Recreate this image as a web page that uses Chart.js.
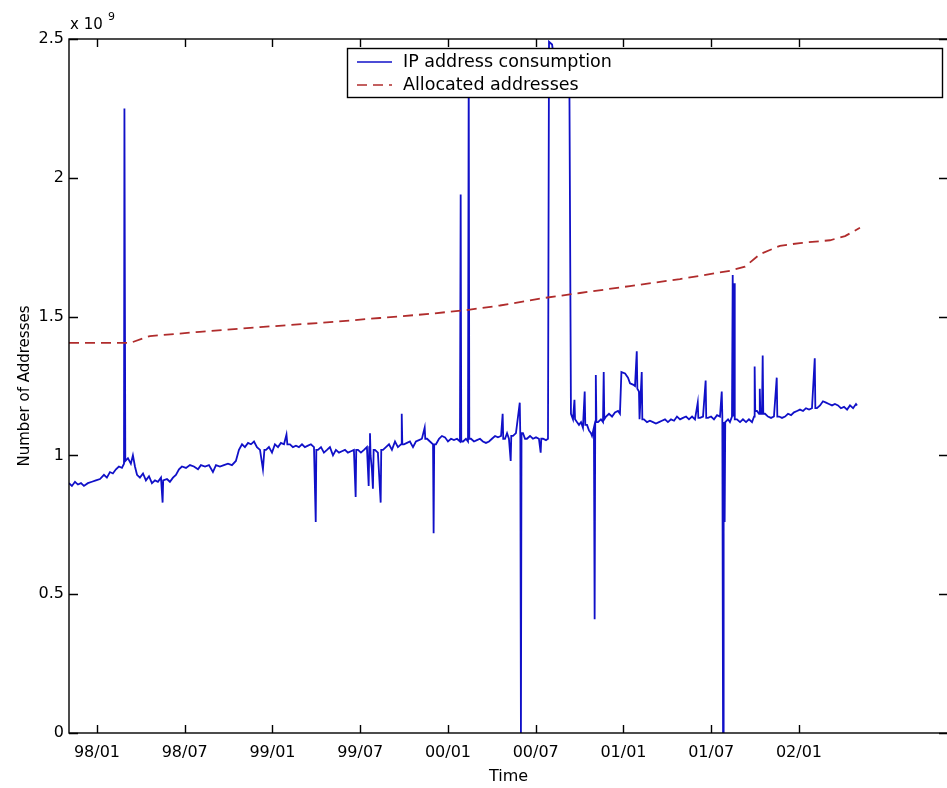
<!DOCTYPE html>
<html>
<head>
<meta charset="utf-8">
<style>
  html, body { margin: 0; padding: 0; background: #fff; overflow: hidden; }
  #wrap { width: 950px; height: 788px; }
</style>
<script src="https://cdn.jsdelivr.net/npm/chart.js@4.4.1/dist/chart.umd.min.js"></script>
</head>
<body>
<div id="wrap"><canvas id="addr" width="950" height="788"></canvas></div>
<script>
const FONT = "'DejaVu Sans', sans-serif";

// x is months since 1998/01
const tickMonths = [0, 6, 12, 18, 24, 30, 36, 42, 48];
const tickLabels = ['98/01', '98/07', '99/01', '99/07', '00/01', '00/07', '01/01', '01/07', '02/01'];
const yTicks = [0, 0.5, 1, 1.5, 2, 2.5];

// daily consumption, in units of 10^9 addresses
const consumption = [
  [-1.91,0.90],[-1.71,0.89],[-1.50,0.905],[-1.30,0.895],[-1.09,0.90],[-0.89,0.89],[-0.62,0.90],[-0.34,0.905],
  [-0.07,0.91],[0.21,0.915],[0.48,0.93],[0.68,0.92],[0.89,0.94],[1.09,0.935],[1.30,0.95],[1.50,0.96],[1.71,0.955],
  [1.85,0.97],[1.88,2.25],[1.91,2.25],[1.94,0.98],[2.12,0.99],[2.32,0.97],[2.46,1.00],[2.60,0.96],[2.74,0.93],
  [2.94,0.92],[3.15,0.935],[3.35,0.91],[3.56,0.925],[3.76,0.90],[3.97,0.91],[4.17,0.905],[4.38,0.92],[4.49,0.83],
  [4.53,0.91],[4.79,0.915],[4.99,0.905],[5.20,0.92],[5.40,0.93],[5.61,0.95],[5.81,0.96],[6.09,0.955],[6.36,0.965],
  [6.63,0.96],[6.91,0.95],[7.11,0.965],[7.39,0.96],[7.66,0.965],[7.93,0.94],[8.14,0.965],[8.41,0.96],[8.68,0.965],
  [8.96,0.97],[9.23,0.965],[9.50,0.98],[9.71,1.02],[9.92,1.04],[10.12,1.03],[10.33,1.045],[10.53,1.04],[10.74,1.05],
  [10.94,1.03],[11.15,1.02],[11.35,0.95],[11.45,1.02],[11.56,1.02],[11.76,1.03],[11.97,1.01],[12.17,1.04],[12.38,1.03],
  [12.58,1.045],[12.79,1.04],[12.96,1.075],[13.02,1.04],[13.20,1.04],[13.40,1.03],[13.61,1.035],[13.81,1.03],
  [14.02,1.04],[14.22,1.03],[14.43,1.035],[14.63,1.04],[14.84,1.03],[14.96,0.76],[15.00,1.02],[15.11,1.02],
  [15.32,1.03],[15.52,1.01],[15.73,1.02],[15.93,1.03],[16.14,1.00],[16.34,1.02],[16.55,1.01],[16.75,1.015],
  [16.96,1.02],[17.16,1.01],[17.37,1.015],[17.57,1.02],[17.69,0.85],[17.73,1.02],[17.85,1.02],[18.05,1.01],
  [18.26,1.02],[18.46,1.03],[18.58,0.89],[18.62,1.03],[18.67,1.08],[18.71,1.00],[18.80,0.95],[18.87,0.88],
  [18.92,1.02],[19.01,1.02],[19.21,1.01],[19.40,0.83],[19.44,1.02],[19.56,1.02],[19.76,1.03],[19.97,1.04],
  [20.17,1.02],[20.38,1.05],[20.58,1.03],[20.79,1.04],[20.84,1.15],[20.88,1.04],[20.99,1.04],[21.20,1.045],
  [21.40,1.05],[21.61,1.03],[21.81,1.05],[22.02,1.055],[22.22,1.06],[22.41,1.10],[22.45,1.06],[22.57,1.06],
  [22.77,1.05],[22.98,1.04],[23.02,0.72],[23.06,1.04],[23.18,1.04],[23.39,1.06],[23.59,1.07],[23.80,1.065],
  [24.00,1.05],[24.21,1.06],[24.41,1.055],[24.62,1.06],[24.82,1.05],[24.87,1.94],[24.91,1.05],[25.03,1.05],
  [25.23,1.06],[25.37,1.05],[25.42,2.40],[25.46,1.06],[25.57,1.06],[25.78,1.05],[25.98,1.055],[26.19,1.06],
  [26.39,1.05],[26.60,1.045],[26.81,1.05],[27.01,1.06],[27.22,1.07],[27.42,1.065],[27.63,1.07],[27.74,1.15],
  [27.78,1.06],[27.90,1.06],[28.04,1.08],[28.17,1.06],[28.29,0.98],[28.33,1.07],[28.45,1.07],[28.65,1.08],
  [28.91,1.19],[28.95,1.06],[28.99,0.0],[29.03,1.08],[29.13,1.08],[29.27,1.06],[29.40,1.06],[29.61,1.07],
  [29.81,1.06],[30.02,1.065],[30.22,1.06],[30.34,1.01],[30.38,1.06],[30.50,1.06],[30.70,1.055],[30.84,1.06],
  [30.91,2.49],[31.12,2.48],[31.33,2.40],[32.30,2.38],[32.41,1.15],[32.55,1.13],[32.65,1.20],[32.69,1.13],
  [32.82,1.12],[32.96,1.11],[33.10,1.12],[33.23,1.10],[33.35,1.23],[33.39,1.11],[33.51,1.11],[33.64,1.09],
  [33.78,1.08],[33.85,1.07],[33.98,1.10],[34.03,0.41],[34.07,1.12],[34.11,1.29],[34.15,1.12],[34.26,1.12],
  [34.46,1.13],[34.60,1.12],[34.65,1.30],[34.69,1.13],[34.81,1.14],[35.01,1.15],[35.22,1.14],[35.42,1.155],
  [35.63,1.16],[35.76,1.15],[35.86,1.30],[36.11,1.295],[36.31,1.28],[36.45,1.26],[36.65,1.255],[36.79,1.25],
  [36.91,1.375],[36.95,1.24],[37.06,1.23],[37.10,1.13],[37.25,1.30],[37.29,1.13],[37.40,1.13],[37.61,1.12],
  [37.81,1.125],[38.02,1.12],[38.22,1.115],[38.43,1.12],[38.63,1.125],[38.84,1.13],[39.04,1.12],[39.25,1.13],
  [39.46,1.125],[39.66,1.14],[39.87,1.13],[40.07,1.135],[40.28,1.14],[40.48,1.13],[40.69,1.14],[40.89,1.13],
  [41.08,1.19],[41.12,1.135],[41.23,1.135],[41.44,1.14],[41.62,1.27],[41.66,1.135],[41.78,1.135],[41.99,1.14],
  [42.19,1.13],[42.40,1.145],[42.60,1.14],[42.72,1.23],[42.76,1.14],[42.81,0.0],[42.85,1.12],[42.92,0.76],
  [42.96,1.12],[43.01,1.12],[43.15,1.13],[43.28,1.12],[43.42,1.14],[43.47,1.65],[43.51,1.14],[43.57,1.62],
  [43.61,1.13],[43.76,1.13],[43.97,1.12],[44.17,1.13],[44.38,1.12],[44.58,1.13],[44.79,1.12],[44.93,1.14],
  [44.97,1.32],[45.01,1.16],[45.13,1.16],[45.27,1.15],[45.32,1.24],[45.36,1.15],[45.47,1.15],[45.52,1.36],
  [45.56,1.15],[45.68,1.15],[45.88,1.14],[46.09,1.135],[46.29,1.14],[46.48,1.28],[46.52,1.14],[46.64,1.14],
  [46.84,1.135],[47.05,1.14],[47.25,1.15],[47.46,1.145],[47.66,1.155],[47.87,1.16],[48.07,1.165],[48.28,1.16],
  [48.48,1.17],[48.69,1.165],[48.89,1.17],[49.08,1.35],[49.12,1.17],[49.23,1.17],[49.44,1.18],[49.64,1.195],
  [49.85,1.19],[50.05,1.185],[50.26,1.18],[50.46,1.185],[50.67,1.18],[50.87,1.17],[51.08,1.175],[51.29,1.165],
  [51.49,1.18],[51.70,1.17],[51.90,1.185],[51.97,1.18]
];

// allocated address space, same units
const allocated = [
  [-1.91,1.405],[2.26,1.405],[3.62,1.43],[7.04,1.445],[11.15,1.462],[15.93,1.48],[19.35,1.495],[22.77,1.51],
  [25.50,1.525],[27.56,1.54],[30.29,1.565],[33.03,1.585],[36.44,1.61],[39.86,1.635],[43.28,1.665],[44.31,1.68],
  [45.33,1.725],[46.70,1.755],[48.07,1.765],[50.12,1.775],[51.15,1.79],[52.17,1.82]
];

const toPoints = rows => rows.map(([x, y]) => ({ x, y }));

// box frame with inward ticks on all four sides
const axesFrame = {
  id: 'axesFrame',
  afterDatasetsDraw(chart) {
    const { ctx, chartArea: { left, right, top, bottom }, scales: { x, y } } = chart;
    ctx.save();
    ctx.strokeStyle = '#000';
    ctx.lineWidth = 1.4;
    ctx.strokeRect(left, top, right - left, bottom - top);
    ctx.beginPath();
    tickMonths.forEach(m => {
      const px = Math.round(x.getPixelForValue(m)) + 0.5;
      ctx.moveTo(px, bottom); ctx.lineTo(px, bottom - 8);
      ctx.moveTo(px, top); ctx.lineTo(px, top + 8);
    });
    yTicks.forEach(v => {
      const py = Math.round(y.getPixelForValue(v)) + 0.5;
      ctx.moveTo(left, py); ctx.lineTo(left + 9, py);
      ctx.moveTo(right, py); ctx.lineTo(right - 9, py);
    });
    ctx.stroke();

    // exponent above the y axis
    ctx.fillStyle = '#000';
    ctx.textBaseline = 'alphabetic';
    ctx.font = '15px ' + FONT;
    ctx.fillText('x 10', 70, 29);
    ctx.font = '11px ' + FONT;
    ctx.fillText('9', 108, 20);
    ctx.restore();
  }
};

// legend box sitting under the top edge of the axes
const boxLegend = {
  id: 'boxLegend',
  afterDraw(chart) {
    const { ctx } = chart;
    ctx.save();
    ctx.fillStyle = '#fff';
    ctx.fillRect(347, 48, 595, 49);
    ctx.strokeStyle = '#000';
    ctx.lineWidth = 1.4;
    ctx.strokeRect(347.5, 48.5, 595, 49);
    chart.data.datasets.forEach((ds, i) => {
      const ly = 62 + i * 23;
      ctx.beginPath();
      ctx.strokeStyle = ds.borderColor;
      ctx.lineWidth = 1.6;
      ctx.setLineDash(ds.borderDash || []);
      ctx.moveTo(357, ly);
      ctx.lineTo(392, ly);
      ctx.stroke();
      ctx.setLineDash([]);
      ctx.fillStyle = '#000';
      ctx.font = '17.5px ' + FONT;
      ctx.textBaseline = 'middle';
      ctx.fillText(ds.label, 403, ly);
    });
    ctx.restore();
  }
};

new Chart(document.getElementById('addr'), {
  type: 'line',
  data: {
    datasets: [
      {
        label: 'IP address consumption',
        data: toPoints(consumption),
        borderColor: '#1010c8',
        borderWidth: 1.8,
        pointRadius: 0,
        tension: 0,
        clip: 0,
        order: 1
      },
      {
        label: 'Allocated addresses',
        data: toPoints(allocated),
        borderColor: '#b02c2c',
        borderWidth: 1.8,
        borderDash: [10, 6],
        pointRadius: 0,
        tension: 0,
        clip: 0,
        order: 0
      }
    ]
  },
  options: {
    responsive: false,
    animation: false,
    devicePixelRatio: 1,
    layout: { padding: { top: 39, right: 2, left: 0, bottom: 0 } },
    plugins: { legend: { display: false }, tooltip: { enabled: false } },
    scales: {
      x: {
        type: 'linear',
        min: -1.91,
        max: 58.19,
        grid: { display: false, drawTicks: false },
        border: { display: false },
        afterBuildTicks: scale => { scale.ticks = tickMonths.map(v => ({ value: v })); },
        afterFit: scale => { scale.height = 55; },
        ticks: {
          autoSkip: false,
          maxRotation: 0,
          padding: 10,
          color: '#000',
          font: { family: FONT, size: 16 },
          callback: (v, i) => tickLabels[i]
        },
        title: {
          display: true,
          text: 'Time',
          color: '#000',
          font: { family: FONT, size: 16 },
          padding: { top: 0, bottom: 2 }
        }
      },
      y: {
        min: 0,
        max: 2.5,
        grid: { display: false, drawTicks: false },
        border: { display: false },
        afterBuildTicks: scale => { scale.ticks = yTicks.map(v => ({ value: v })); },
        afterFit: scale => { scale.width = 69; },
        ticks: {
          padding: 5,
          color: '#000',
          font: { family: FONT, size: 16 },
          callback: v => String(v)
        },
        title: {
          display: true,
          text: 'Number of Addresses',
          color: '#000',
          font: { family: FONT, size: 15 },
          padding: { top: 16, bottom: 0 }
        }
      }
    }
  },
  plugins: [axesFrame, boxLegend]
});
</script>
</body>
</html>
